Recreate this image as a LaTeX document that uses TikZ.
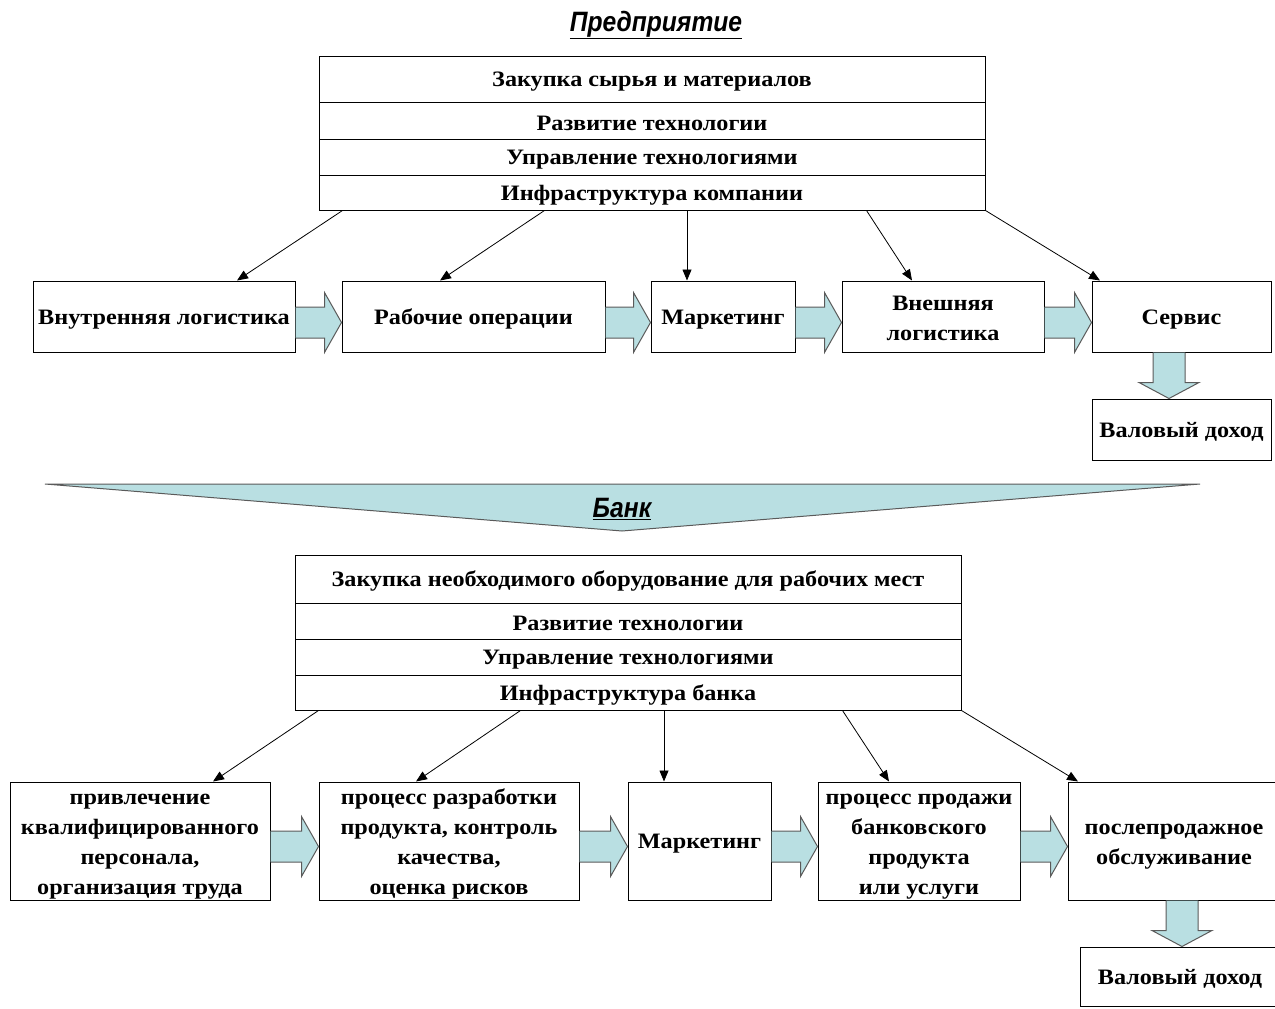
\documentclass[tikz,border=0pt]{standalone}
\usepackage{fontspec}
\setmainfont{Liberation Serif}
\newfontfamily\boxfont[FakeStretch=1.1]{Liberation Serif}
\newfontfamily\headfont[FakeStretch=0.88]{Liberation Sans}
\usetikzlibrary{arrows.meta,calc}

\definecolor{flowblue}{HTML}{B9DFE2}
\definecolor{flowgray}{HTML}{5A5A5A}

\tikzset{
  boxtext/.style={font=\boxfont\bfseries\fontsize{22}{30}\selectfont},
  lift/.style={execute at begin node={\rule{0pt}{#1}}},
  headtext/.style={font=\headfont\bfseries\itshape\fontsize{28}{30}\selectfont},
  conn/.style={draw, line width=0.8pt, -{Triangle[length=11pt,width=9pt]}},
  flow/.style={draw=flowgray, fill=flowblue, line width=1pt},
}

% block arrow from node #1 to node #2, shifted down by #3
\newcommand\flowright[3]{%
  \draw[flow] ($(#1.east)+(0,#3-15.5)$) -- ($(#2.west)+(-17,#3-15.5)$)
    -- ($(#2.west)+(-17,#3-30)$) -- ($(#2.west)+(0,#3)$)
    -- ($(#2.west)+(-17,#3+30)$) -- ($(#2.west)+(-17,#3+15.5)$)
    -- ($(#1.east)+(0,#3+15.5)$);}
% block arrow from node #1 down to node #2, shifted right by #3
\newcommand\flowdown[3]{%
  \draw[flow] ($(#1.south -| #2.north)+(#3-16,0)$) -- ($(#2.north)+(#3-16,-16)$)
    -- ($(#2.north)+(#3-30,-16)$) -- ($(#2.north)+(#3,0)$)
    -- ($(#2.north)+(#3+30,-16)$) -- ($(#2.north)+(#3+16,-16)$)
    -- ($(#1.south -| #2.north)+(#3+16,0)$);}

\begin{document}
\begin{tikzpicture}[x=1pt,y=-1pt]
  \useasboundingbox (0,0) rectangle (1275,1009);

  % Предприятие
  \node[headtext] (ent) at (656,25) {\underline{Предприятие}};

  \begin{scope}[every node/.style={draw, line width=1pt, boxtext, lift=20pt, minimum width=666pt, inner sep=0pt}]
    \node[minimum height=46pt] (z1) at (652,79)    {Закупка сырья и материалов};
    \node[minimum height=37pt] (z2) at (652,120.5) {Развитие технологии};
    \node[minimum height=36pt] (z3) at (652,157)   {Управление технологиями};
    \node[minimum height=35pt] (z4) at (652,192.5) {Инфраструктура компании};
  \end{scope}

  \begin{scope}[every node/.style={draw, line width=1pt, boxtext, lift=20pt, minimum height=71pt, inner sep=0pt, align=center}]
    \node[minimum width=262pt] (b1) at (164,316.5)    {Внутренняя логистика};
    \node[minimum width=263pt] (b2) at (473.5,316.5)  {Рабочие операции};
    \node[minimum width=144pt] (b3) at (723,316.5)    {Маркетинг};
    \node[minimum width=202pt, text height=48.5pt, text depth=0pt] (b4) at (943,316.5) {Внешняя\\логистика};
    \node[minimum width=179pt] (b5) at (1181.5,316.5) {Сервис};
    \node[minimum width=179pt, minimum height=61pt] (v1) at (1181.5,429.5) {Валовый доход};
  \end{scope}

  \path ([xshift=24pt]z4.south west)   edge[conn] ([xshift=73pt]b1.north);
  \path ([xshift=226pt]z4.south west)  edge[conn] ([xshift=-33.5pt]b2.north);
  \path ([xshift=35pt]z4.south)        edge[conn] ([xshift=-36pt]b3.north);
  \path ([xshift=-119pt]z4.south east) edge[conn] ([xshift=-31pt]b4.north);
  \path (z4.south east)                edge[conn] ([xshift=-81.5pt]b5.north);

  \flowright{b1}{b2}{6}
  \flowright{b2}{b3}{6}
  \flowright{b3}{b4}{6}
  \flowright{b4}{b5}{6}
  \flowdown{b5}{v1}{-12.5}

  % Банк
  \draw[flowgray, fill=flowblue, line width=1pt] (45,484) -- (1200,484) -- (622,531) -- cycle;
  \node[headtext] (bank) at (622,509) {\underline{Банк}};

  \begin{scope}[every node/.style={draw, line width=1pt, boxtext, lift=20pt, minimum width=666pt, inner sep=0pt}]
    \node[minimum height=48pt] (k1) at (628,579)   {Закупка необходимого оборудование для рабочих мест};
    \node[minimum height=36pt] (k2) at (628,621)   {Развитие технологии};
    \node[minimum height=36pt] (k3) at (628,657)   {Управление технологиями};
    \node[minimum height=35pt] (k4) at (628,692.5) {Инфраструктура банка};
  \end{scope}

  \begin{scope}[every node/.style={draw, line width=1pt, boxtext, text height=106pt, text depth=0pt, minimum height=118pt, inner sep=0pt, align=center}]
    \node[minimum width=260pt] (c1) at (140,841)   {привлечение\\квалифицированного\\персонала,\\организация труда};
    \node[minimum width=260pt] (c2) at (449,841)   {процесс разработки\\продукта, контроль\\качества,\\оценка рисков};
    \node[minimum width=202pt] (c4) at (919,841)   {процесс продажи\\банковского\\продукта\\или услуги};
    \node[minimum width=212pt, text height=46pt] (c5) at (1174,841) {послепродажное\\обслуживание};
  \end{scope}
  \begin{scope}[every node/.style={draw, line width=1pt, boxtext, lift=20pt, inner sep=0pt}]
    \node[minimum width=143pt, minimum height=118pt] (c3) at (699.5,841) {Маркетинг};
    \node[minimum width=200pt, minimum height=59pt] (v2) at (1180,976.5) {Валовый доход};
  \end{scope}

  \path ([xshift=24pt]k4.south west)   edge[conn] ([xshift=73pt]c1.north);
  \path ([xshift=226pt]k4.south west)  edge[conn] ([xshift=-33pt]c2.north);
  \path ([xshift=36pt]k4.south)        edge[conn] ([xshift=-35.5pt]c3.north);
  \path ([xshift=-119pt]k4.south east) edge[conn] ([xshift=-30pt]c4.north);
  \path (k4.south east)                edge[conn] ([xshift=-96pt]c5.north);

  \flowright{c1}{c2}{5.5}
  \flowright{c2}{c3}{5.5}
  \flowright{c3}{c4}{5.5}
  \flowright{c4}{c5}{5.5}
  \flowdown{c5}{v2}{2}

\end{tikzpicture}
\end{document}
